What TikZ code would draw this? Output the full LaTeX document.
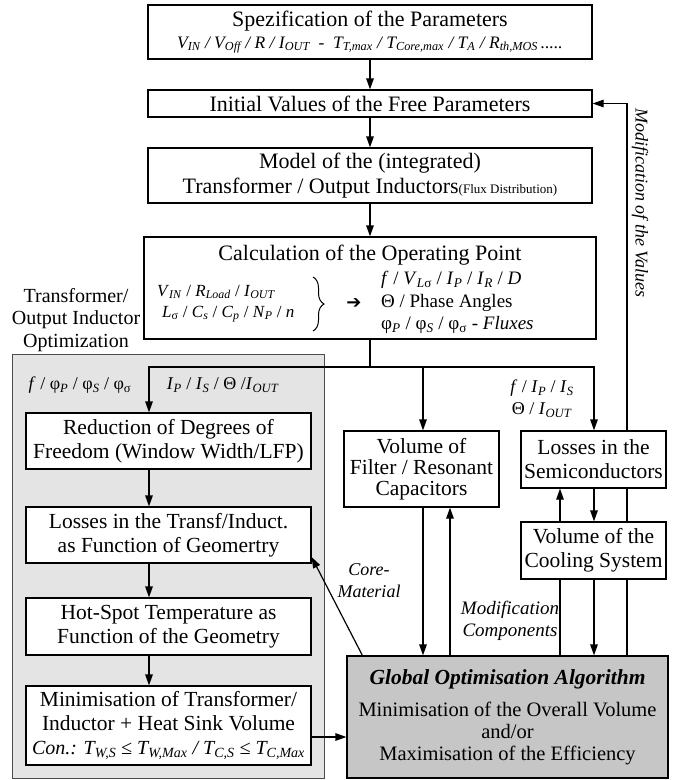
\documentclass[tikz,border=0pt]{standalone}
\usepackage{fontspec}
\setmainfont{Liberation Serif}
\newfontfamily\arrowfont{DejaVu Sans}
\usetikzlibrary{arrows.meta,decorations.pathreplacing}

\definecolor{panelgray}{RGB}{228,228,228}
\definecolor{globgray}{RGB}{198,198,198}
\newcommand{\iv}[2]{\textit{#1}\textsubscript{\textit{#2}}}

\tikzset{
	box/.style={draw, fill=white, line width=1.2pt, align=center, inner sep=0pt, font=\fontsize{21.5}{24}\selectfont},
	flow/.style={line width=1.2pt, -{Triangle[length=11pt,width=7.5pt]}},
	conn/.style={line width=1.2pt},
	lbl/.style={inner sep=0pt, align=center, font=\fontsize{18}{22}\selectfont},
}

\begin{document}
\begin{tikzpicture}[x=1pt,y=-1pt]
					\useasboundingbox (0,0) rectangle (685,780);
					% optimisation panel
					\filldraw[fill=panelgray, draw=black!70, line width=0.9pt] (12,354) rectangle (324,778);
					% main column
					\path (370,32) node[box, minimum width=444pt, minimum height=54pt, font=\fontsize{22}{25}\selectfont] (spec) {Spezification of the Parameters\\[-3pt]{\fontsize{17.5}{20}\selectfont\itshape V\textsubscript{IN} / V\textsubscript{Off} / R / I\textsubscript{OUT}\ \ -\ \ T\textsubscript{T,max} / T\textsubscript{Core,max} / T\textsubscript{A} / R\textsubscript{th,MOS}\,.....}};
					\path (370,103.5) node[box, minimum width=444pt, minimum height=27pt, font=\fontsize{22}{25}\selectfont] (init) {Initial Values of the Free Parameters};
					\path (370,175.5) node[box, minimum width=444pt, minimum height=55pt, font=\fontsize{22}{25}\selectfont] (model) {Model of the (integrated)\\Transformer / Output Inductors{\fontsize{13}{13}\selectfont(Flux Distribution)}};
					\path (370,288) node[box, minimum width=452pt, minimum height=102pt] (calc) {};
					\path (370,255) node[font=\fontsize{22}{25}\selectfont, inner sep=0pt] (calctitle) {Calculation of the Operating Point};
					\path (157,303.5) node[anchor=west, inner sep=0pt, align=left, font=\fontsize{17}{21}\selectfont] (calcin) {\iv{V}{IN} / \iv{R}{Load} / \iv{I}{OUT}\\\hspace{5pt}\textit{L}\textsubscript{σ} / \iv{C}{s} / \iv{C}{p} / \iv{N}{P} / \textit{n}};
					\draw[line width=1pt, decorate, decoration={brace, amplitude=11pt}] (313,277) -- (313,331);
					\path (354,304) node[inner sep=0pt, font=\arrowfont\fontsize{18}{18}\selectfont] (calcarrow) {➔};
					\path (381,302.5) node[anchor=west, inner sep=0pt, align=left, font=\fontsize{19}{22.5}\selectfont] (calcout) {\textit{f} / \textit{V}\textsubscript{\textit{L}σ} / \iv{I}{P} / \iv{I}{R} / \textit{D}\\Θ / Phase Angles\\φ\textsubscript{\textit{P}} / φ\textsubscript{\textit{S}} / φ\textsubscript{σ} - \textit{Fluxes}};
					\path (76,320) node[lbl, font=\fontsize{20}{22.5}\selectfont] (optlabel) {Transformer/\\Output Inductor\\Optimization};
					% transformer / inductor optimisation
					\path (168.5,441) node[box, minimum width=285pt, minimum height=56pt] (reduce) {Reduction of Degrees of\\Freedom (Window Width/LFP)};
					\path (168.5,535) node[box, minimum width=285pt, minimum height=56pt] (losstr) {Losses in the Transf/Induct.\\as Function of Geomertry};
					\path (168.5,626.5) node[box, minimum width=285pt, minimum height=57pt] (hotspot) {Hot-Spot Temperature as\\Function of the Geometry};
					\path (168.5,725.5) node[box, minimum width=285pt, minimum height=79pt] (minvol) {Minimisation of Transformer/\\Inductor + Heat Sink Volume\\{\fontsize{20}{24}\selectfont\itshape Con.: T\textsubscript{W,S} ≤ T\textsubscript{W,Max} / T\textsubscript{C,S} ≤ T\textsubscript{C,Max}}};
					% components
					\path (421.5,469) node[box, minimum width=155pt, minimum height=76pt, font=\fontsize{21.5}{21}\selectfont] (capvol) {Volume of\\Filter / Resonant\\Capacitors};
					\path (593.5,459.5) node[box, minimum width=145pt, minimum height=57pt] (semis) {Losses in the\\Semiconductors};
					\path (593.5,550.5) node[box, minimum width=145pt, minimum height=57pt] (cooling) {Volume of the\\Cooling System};
					\path (507.5,717) node[box, fill=globgray, minimum width=321pt, minimum height=122pt, font=\fontsize{20.5}{22}\selectfont] (global) {{\fontsize{21.5}{21.5}\selectfont\bfseries\itshape Global Optimisation Algorithm}\\[10pt]Minimisation of the Overall Volume\\and/or\\Maximisation of the Efficiency};
					% labels
					\path (80,385) node[lbl] (fphi) {\textit{f} / φ\textsubscript{\textit{P}} / φ\textsubscript{\textit{S}} / φ\textsubscript{σ}};
					\path (223,385) node[lbl] (ipis) {\iv{I}{P} / \iv{I}{S} / Θ /\iv{I}{OUT}};
					\path (542,398.5) node[lbl] (semilbl) {\textit{f} / \iv{I}{P} / \iv{I}{S}\\Θ / \iv{I}{OUT}};
					\path (369,581) node[lbl, font=\fontsize{18}{22}\selectfont\itshape] (corelbl) {Core-\\Material};
					\path (510,621) node[lbl, font=\fontsize{19}{22}\selectfont\itshape] (modlbl) {Modification\\Components};
					\path (640,203) node[lbl, rotate=-90, font=\fontsize{18}{22}\selectfont\itshape] (modvals) {Modification of the Values};
					% connectors
					\draw[flow] (spec) -- (init);
					\draw[flow] (init) -- (model);
					\draw[flow] (model) -- (calc);
					\coordinate (split) at (370,367);
					\draw[conn] (calc) -- (split);
					\draw[flow] (split) -| (reduce.north -| 149,0);
					\draw[flow] (split) -| (capvol.north -| 423,0);
					\draw[flow] (split) -| (semis.north -| 594,0);
					\draw[flow] (reduce.south -| 149,0) -- (losstr.north -| 149,0);
					\draw[flow] (losstr.south -| 149,0) -- (hotspot.north -| 149,0);
					\draw[flow] (hotspot.south -| 149,0) -- (minvol.north -| 149,0);
					\draw[flow] ([yshift=-11.5pt]minvol.east) -- ([yshift=-11.5pt]minvol.east -| global.west);
					\draw[flow] ([xshift=16pt]global.north west) -- ([yshift=-22pt]losstr.east);
					\draw[flow] (capvol.south -| 423,0) -- (global.north -| 423,0);
					\draw[flow] (global.north -| 450,0) -- (capvol.south -| 450,0);
					\draw[conn] (global.north -| 560,0) -- (cooling.south -| 560,0);
					\draw[flow] (cooling.north -| 560,0) -- (semis.south -| 560,0);
					\draw[flow] (semis.south -| 594,0) -- (cooling.north -| 594,0);
					\draw[flow] (cooling.south -| 594,0) -- (global.north -| 594,0);
					\draw[conn] (global.north -| 627,0) -- (cooling.south -| 627,0);
					\draw[conn] (cooling.north -| 627,0) -- (semis.south -| 627,0);
					\draw[flow] (semis.north -| 627,0) |- (init.east);
\end{tikzpicture}
\end{document}
